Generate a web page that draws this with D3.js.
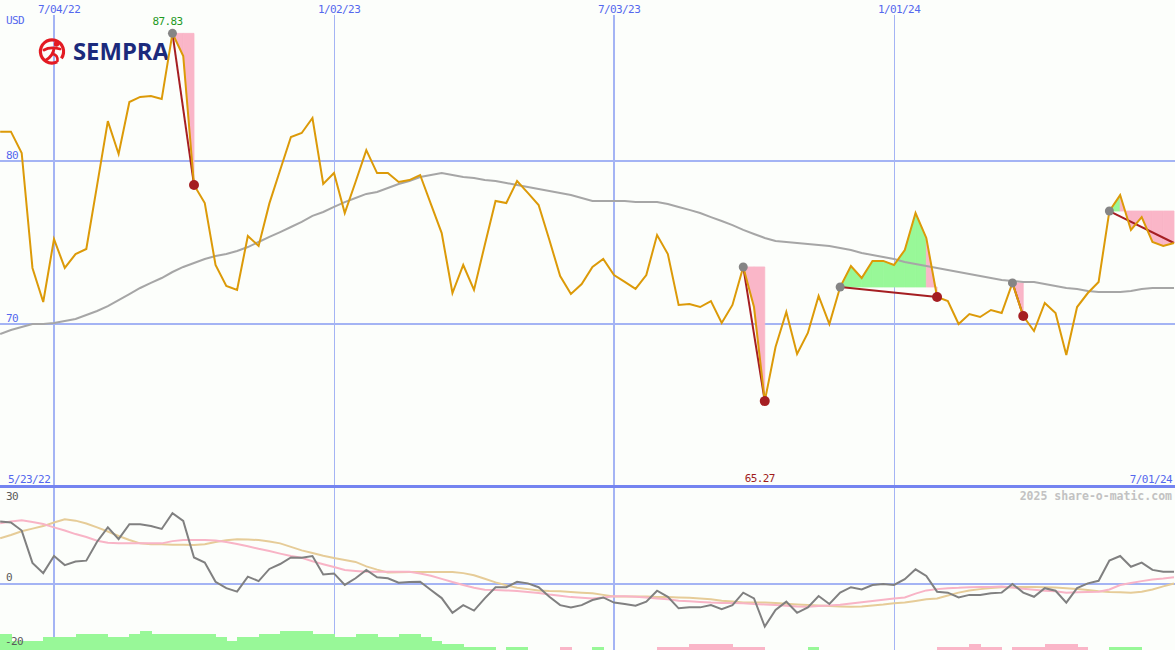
<!DOCTYPE html>
<html><head><meta charset="utf-8">
<script src="https://cdn.jsdelivr.net/npm/d3@7"></script>
<style>html,body{margin:0;padding:0;background:#fcfefb;overflow:hidden}svg{display:block}</style>
</head><body><svg id="c" width="1175" height="650"></svg>
<script>
// ---------- DATA ----------
const startDate = "2022-05-30"; // first weekly close
const price = [
 81.80,81.80,80.49,73.44,71.35,75.21,73.44,74.29,74.60,78.50,
 82.45,80.43,83.62,83.93,83.99,83.80,87.83,86.44,78.53,77.42,
 73.62,72.33,72.09,75.40,74.79,77.40,79.45,81.47,81.72,82.64,
 78.59,79.26,76.81,78.71,80.67,79.26,79.26,78.71,78.83,79.14,
 77.36,75.58,71.90,73.62,72.09,74.85,77.55,77.42,78.77,78.04,
 77.30,75.15,72.94,71.84,72.45,73.50,73.99,73.00,72.58,72.15,
 73.00,75.46,74.29,71.17,71.23,71.04,71.41,70.06,71.17,73.50,
 71.04,65.27,68.59,70.74,68.16,69.45,71.72,70.00,72.27,73.56,
 72.82,73.87,73.87,73.62,74.54,76.81,75.28,71.66,71.41,70.00,
 70.61,70.43,70.86,70.67,72.52,70.49,69.57,71.29,70.67,68.10,
 71.04,71.90,72.58,76.93,77.91,75.77,76.56,75.03,74.79,74.97];
const movingAvg = [
 69.39,69.63,69.82,70.00,70.00,70.06,70.18,70.31,70.55,70.80,
 71.10,71.47,71.84,72.21,72.52,72.82,73.19,73.50,73.74,73.99,
 74.17,74.29,74.48,74.72,75.03,75.34,75.64,75.95,76.26,76.63,
 76.87,77.18,77.48,77.73,77.98,78.10,78.34,78.59,78.77,79.02,
 79.14,79.26,79.14,79.02,78.96,78.83,78.77,78.65,78.53,78.40,
 78.28,78.16,78.04,77.91,77.73,77.55,77.55,77.55,77.55,77.48,
 77.48,77.48,77.36,77.18,77.00,76.81,76.56,76.32,76.07,75.77,
 75.52,75.28,75.09,75.03,74.97,74.91,74.85,74.79,74.66,74.54,
 74.36,74.23,74.11,73.99,73.80,73.68,73.56,73.44,73.31,73.19,
 73.07,72.94,72.82,72.70,72.64,72.58,72.58,72.45,72.33,72.21,
 72.15,72.02,71.96,71.96,71.96,72.02,72.15,72.21,72.21,72.21];
const oscGray = [
 19.5,19.2,16.7,6.6,3.4,8.75,5.9,7.0,7.3,13.2,
 17.7,14.0,18.7,18.7,18.1,17.2,22.1,19.7,8.3,6.7,
 0.7,-1.3,-2.4,2.3,0.9,4.7,6.25,8.3,8.2,8.75,
 3.0,3.3,-0.3,1.8,4.4,2.1,1.8,0.4,0.6,0.7,
 -1.9,-4.4,-9.0,-6.6,-8.3,-4.5,-1.0,-1.0,0.7,0.2,
 -1.0,-4.0,-6.6,-7.3,-6.6,-5.0,-4.2,-5.8,-6.25,-6.8,
 -5.5,-2.1,-4.0,-7.6,-7.3,-7.3,-6.6,-7.9,-6.6,-2.7,
 -4.5,-13.3,-8.1,-5.5,-9.0,-7.3,-3.75,-6.25,-2.7,-1.0,
 -1.7,-0.3,0,-0.3,1.5,4.6,2.5,-2.4,-2.7,-4.2,
 -3.4,-3.4,-2.9,-2.7,0,-2.7,-4.0,-1.3,-2.1,-5.8,
 -1.3,0.2,1.0,7.3,8.75,5.4,6.7,4.4,3.8,3.8];
const oscPink = [
 19.0,19.5,19.9,19.4,18.75,17.7,16.7,15.6,14.7,13.5,
 12.9,12.7,12.7,12.7,12.7,12.7,13.4,13.75,13.75,13.75,
 13.6,13.1,12.5,11.8,11.0,10.3,9.5,8.75,8.2,7.1,
 6.2,5.3,4.4,4.1,3.8,3.8,3.8,3.8,3.8,3.3,
 2.6,1.6,0.6,-0.3,-1.2,-1.8,-1.9,-2.0,-2.2,-2.5,
 -2.8,-3.3,-3.7,-4.1,-4.3,-4.5,-4.2,-3.8,-3.8,-4.0,
 -4.2,-4.5,-4.8,-5.2,-5.4,-5.6,-5.8,-5.9,-5.9,-6.0,
 -6.25,-6.4,-6.6,-6.8,-7.0,-7.1,-6.9,-6.7,-6.5,-6.1,
 -5.7,-5.3,-4.9,-4.5,-4.2,-3.0,-2.0,-1.6,-1.3,-1.2,
 -1.0,-0.9,-0.9,-0.8,-1.1,-1.5,-1.8,-2.1,-2.3,-2.7,
 -2.6,-2.5,-2.4,-1.7,-0.3,0.3,0.9,1.4,1.7,2.1];
const oscTan = [
 14.3,15.3,16.5,17.3,18.1,19.2,20.2,19.8,18.9,17.7,
 16.4,15.0,13.75,12.7,12.4,12.4,12.3,12.3,12.2,12.4,
 13.1,13.7,14.0,13.9,13.75,13.3,12.7,11.6,10.5,9.7,
 8.8,8.1,7.5,6.9,5.5,4.5,3.6,3.65,3.75,3.75,
 3.75,3.75,3.75,3.4,2.75,1.65,0.5,-0.4,-1.2,-1.6,
 -2.0,-2.2,-2.3,-2.5,-2.7,-2.9,-3.4,-3.9,-3.9,-3.9,
 -3.9,-4.1,-4.1,-4.2,-4.3,-4.5,-4.75,-5.2,-5.5,-5.8,
 -5.8,-5.8,-5.9,-6.2,-6.4,-6.6,-6.75,-6.9,-7.0,-7.1,
 -7.0,-6.7,-6.4,-6.0,-5.8,-5.3,-4.8,-4.5,-3.6,-2.7,
 -2.0,-1.6,-1.25,-1.05,-1.0,-0.9,-0.9,-1.0,-1.1,-1.3,
 -1.6,-1.9,-2.3,-2.5,-2.6,-2.7,-2.4,-1.7,-0.75,0.15];
const trendBars = [
 5,3,3,3,4,4,4,5,5,5,
 4,4,5,6,5,5,5,5,5,5,
 4,3,4,4,5,5,6,6,6,5,
 5,4,4,5,5,4,4,5,5,4,
 3,2,2,1,1,1,0,1,1,0,
 0,0,-1,0,0,1,0,0,0,0,
 0,-1,-1,-1,-2,-2,-2,-2,-1,-1,
 -1,0,0,0,0,1,0,0,0,0,
 0,0,0,0,0,0,0,-1,-1,-1,
 -2,-1,-1,0,-1,-1,-1,-2,-2,-2,
 -1,0,0,1,1,1,0,0,0,0];
const tickDates = ["2022-07-04","2023-01-02","2023-07-03","2024-01-01"];
const tickLabels = ["7/04/22","1/02/23","7/03/23","1/01/24"];
const priceTicks = [70, 80];
const oscTicks = [30, 0, -20];
const tradeStart = [16, 69, 78, 94, 103];
const tradeEnd   = [18, 71, 87, 95, 109];
const tradeClosed = [true, true, true, true, false];
const firstDateLabel = "5/23/22", lastDateLabel = "7/01/24";
const currencyLabel = "USD";
const watermark = "2025 share-o-matic.com";
const company = "SEMPRA";

// ---------- SETUP ----------
const W = 1175, H = 650, mainBottom = 487;
const parse = d3.utcParse("%Y-%m-%d");
const d0 = parse(startDate);
const dates = price.map((_, i) => d3.utcDay.offset(d0, 7 * i));
const x = d3.scaleUtc().domain([parse(tickDates[0]), parse(tickDates[3])]).range([54, 894]);
const y = d3.scaleLinear().domain([60, 90]).range([mainBottom, -2]);
const yo = d3.scaleLinear().domain([-20, 30]).range([648, 488]);
const yb = d3.scaleLinear().domain([0, 6]).range([650, 631]);

const svg = d3.select("#c");
const defs = svg.append("defs");
defs.append("clipPath").attr("id", "cm").append("rect").attr("x", 0).attr("y", 0).attr("width", W).attr("height", mainBottom - 1);
defs.append("clipPath").attr("id", "cl").append("rect").attr("x", 0).attr("y", mainBottom + 1).attr("width", W).attr("height", H - mainBottom);
svg.append("rect").attr("width", W).attr("height", H).attr("fill", "#fcfefb");

const GRID = "#a4b4f4", BLUE = "#5468ee", FONT = "DejaVu Sans Mono";
const GREEN = "#98f898", PINK = "#fab6c8";

// grid
const g = svg.append("g");
priceTicks.forEach(v => g.append("line").attr("x1", 0).attr("x2", W).attr("y1", y(v)).attr("y2", y(v)).attr("stroke", GRID).attr("stroke-width", 2));
g.append("line").attr("x1", 0).attr("x2", W).attr("y1", yo(0)).attr("y2", yo(0)).attr("stroke", GRID).attr("stroke-width", 2);
tickDates.forEach(td => {
  const d = parse(td), xx = Math.round(x(d)) + (d.getUTCMonth() === 6 ? 0 : 0.5);
  const sw = d.getUTCMonth() === 6 ? 2 : 1;
  g.append("line").attr("x1", xx).attr("x2", xx).attr("y1", 15).attr("y2", H).attr("stroke", GRID).attr("stroke-width", sw);
});

// logo
const logo = svg.append("g");
logo.append("path").attr("transform", "translate(52,51.5)")
  .attr("d", d3.arc()({innerRadius: 10, outerRadius: 13.2, startAngle: -3.6, endAngle: 2.2}))
  .attr("fill", "#e31b23");
logo.append("circle").attr("cx", 56.5).attr("cy", 44).attr("r", 2.7).attr("fill", "#e31b23");
logo.append("path").attr("d", "M44 50 Q50 46.5 60 49").attr("stroke", "#e31b23").attr("stroke-width", 2.8).attr("fill", "none").attr("stroke-linecap", "round");
logo.append("path").attr("d", "M54 48.5 Q53 56 46 60").attr("stroke", "#e31b23").attr("stroke-width", 2.8).attr("fill", "none").attr("stroke-linecap", "round");
logo.append("path").attr("d", "M53 54 Q58 55 57.5 61").attr("stroke", "#e31b23").attr("stroke-width", 2.6).attr("fill", "none").attr("stroke-linecap", "round");
logo.append("text").attr("x", 73).attr("y", 60).attr("font-family", "'Open Sans', sans-serif").attr("font-weight", 700)
  .attr("font-size", 23).attr("textLength", 96).attr("lengthAdjust", "spacingAndGlyphs").attr("fill", "#1b2a7c").text(company);

// main panel marks
const m = svg.append("g").attr("clip-path", "url(#cm)");
const seg = d3.area().x(d => x(d.d)).y0(d => y(d.L)).y1(d => y(d.v));
tradeStart.forEach((s, t) => {
  const e = tradeEnd[t], L = price[s];
  for (let k = s; k < e; k++) {
    const pts = [{d: dates[k], v: price[k], L}, {d: dates[k + 1], v: price[k + 1], L}];
    const c = price[k + 1] >= L ? GREEN : PINK;
    m.append("path").attr("d", seg(pts)).attr("fill", c).attr("stroke", c).attr("stroke-width", 0.8);
  }
});
const line = d3.line().x((d, i) => x(dates[i])).y(d => y(d));
m.append("path").attr("d", line(movingAvg)).attr("fill", "none").attr("stroke", "#a6a6a6").attr("stroke-width", 2);
tradeStart.forEach((s, t) => {
  const e = tradeEnd[t];
  m.append("line").attr("x1", x(dates[s])).attr("y1", y(price[s])).attr("x2", x(dates[e])).attr("y2", y(price[e]))
    .attr("stroke", "#a51e22").attr("stroke-width", 2);
});
m.append("path").attr("d", line(price)).attr("fill", "none").attr("stroke", "#dc9a08").attr("stroke-width", 2).attr("stroke-linejoin", "miter");
tradeStart.forEach((s, t) => {
  const e = tradeEnd[t];
  m.append("circle").attr("cx", x(dates[s])).attr("cy", y(price[s])).attr("r", 4.5).attr("fill", "#858585");
  if (tradeClosed[t]) m.append("circle").attr("cx", x(dates[e])).attr("cy", y(price[e])).attr("r", 5).attr("fill", "#a51e22");
});

// lower panel
const lo = svg.append("g").attr("clip-path", "url(#cl)");
lo.selectAll("rect.bar").data(trendBars).join("rect").attr("class", "bar")
  .attr("x", (v, i) => x(dates[i]))
  .attr("width", (v, i) => x(d3.utcDay.offset(dates[i], 7)) - x(dates[i]) + 0.6)
  .attr("y", v => yb(Math.abs(v))).attr("height", v => yb(0) - yb(Math.abs(v)))
  .attr("shape-rendering", "crispEdges")
  .attr("fill", v => v >= 0 ? GREEN : PINK);
const oline = d3.line().x((d, i) => x(dates[i])).y(d => yo(d));
lo.append("path").attr("d", oline(oscTan)).attr("fill", "none").attr("stroke", "#e6cc98").attr("stroke-width", 2);
lo.append("path").attr("d", oline(oscPink)).attr("fill", "none").attr("stroke", "#f8b4c6").attr("stroke-width", 2);
lo.append("path").attr("d", oline(oscGray)).attr("fill", "none").attr("stroke", "#808080").attr("stroke-width", 2);

// divider
svg.append("line").attr("x1", 0).attr("x2", W).attr("y1", 486.5).attr("y2", 486.5).attr("stroke", "#7484f0").attr("stroke-width", 3);

// text
const T = (xx, yy, s, fill, anchor, extra) => {
  const t = svg.append("text").attr("x", xx).attr("y", yy).attr("font-family", FONT).attr("font-size", 11)
    .attr("letter-spacing", "-0.6px").attr("fill", fill).attr("text-anchor", anchor || "start").text(s);
  if (extra) extra(t);
  return t;
};
T(6, 24, currencyLabel, BLUE);
priceTicks.forEach(v => T(6, y(v) - 2, String(v), BLUE));
tickDates.forEach((td, i) => T(x(parse(td)) - 16, 13, tickLabels[i], BLUE));
T(8, 483, firstDateLabel, BLUE);
T(1172, 483, lastDateLabel, BLUE, "end");
oscTicks.forEach(v => T(v < 0 ? 5 : 6, Math.max(500, Math.min(645, yo(v) - 3)), String(v), "#5a5a5a"));
const iMax = d3.maxIndex(price), iMin = d3.minIndex(price);
T(x(dates[iMax]) - 5, 25, price[iMax].toFixed(2), "#1f9a1f", "middle");
T(x(dates[iMin]) - 5, 482, price[iMin].toFixed(2), "#a01c1c", "middle");
T(1172, 500, watermark, "#c2c2c2", "end", t => t.attr("font-weight", "bold").attr("font-size", 11.5).attr("letter-spacing", "0px"));
</script></body></html>
